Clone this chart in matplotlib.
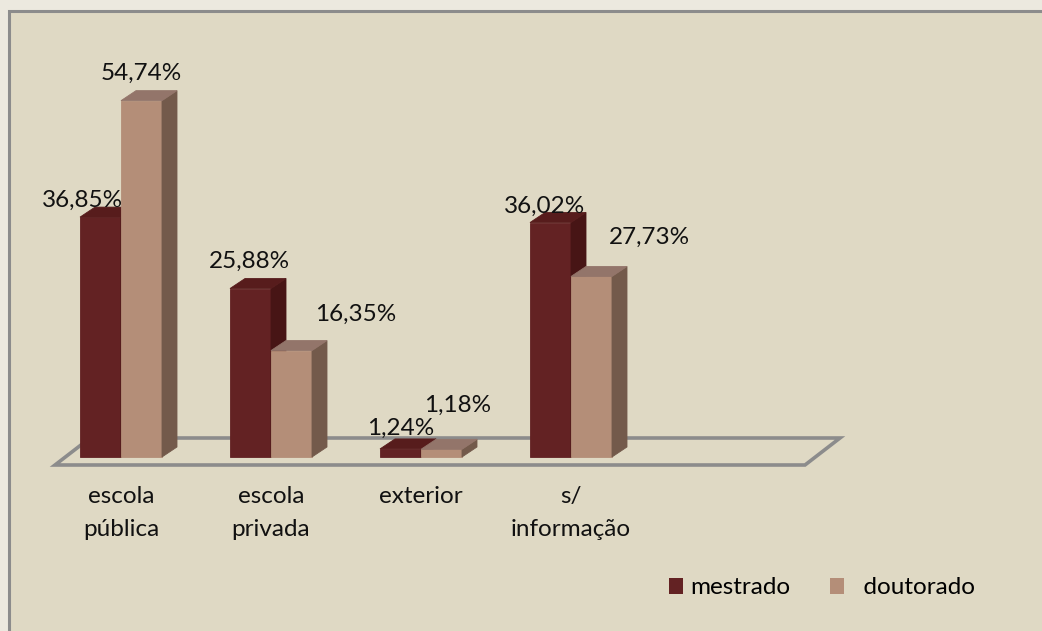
import matplotlib
matplotlib.use("Agg")
import matplotlib.pyplot as plt
from matplotlib.patches import Polygon, Rectangle, Patch

# ---------------- data ----------------
categories = ["escola\npública", "escola\nprivada", "exterior", "s/\ninformação"]
series_names = ["mestrado", "doutorado"]
mestrado = [36.85, 25.88, 1.24, 36.02]
doutorado = [54.74, 16.35, 1.18, 27.73]
label_mestrado = ["36,85%", "25,88%", "1,24%", "36,02%"]
label_doutorado = ["54,74%", "16,35%", "1,18%", "27,73%"]

# ---------------- style ----------------
FIG_W, FIG_H = 1042, 631
PX_CAT = 150.0      # pixels per category slot
PX_PCT = 6.51       # pixels per percent
X0_PX = 121.0       # pixel x of first category centre
BASE_PX = 457.0     # pixel y of bar bases
BAR_W = 41.0 / PX_CAT
DEPTH = (15.0 / PX_CAT, 10.0 / PX_PCT)          # bar 3D depth in data units
FLOOR_DEPTH = (35.0 / PX_CAT, 27.0 / PX_PCT)
FLOOR_FRONT = -8.0 / PX_PCT
FLOOR_LEFT = -0.44
N_SLOTS = 5

colors = {
    "mestrado": ("#632223", "#471515", "#571c1c"),   # front, side, top
    "doutorado": ("#B48E78", "#735A4B", "#93756A"),
}
BG_OUT = "#ECE9DF"
BG_PANEL = "#DFD9C4"
GRID = "#8C8C8C"
FONT = "Lato"
FS = 17.5

# label offsets in pixels (dx from front centre, dy above front top)
off_m = [(-18, 17), (-1, 27), (0, 21), (-6, 16)]
off_d = [(0, 27), (64, 36), (16, 44), (58, 39)]

fig = plt.figure(figsize=(FIG_W / 100, FIG_H / 100), dpi=100)
fig.patch.set_facecolor(BG_OUT)
ax = fig.add_axes([0, 0, 1, 1])
ax.axis("off")
ax.set_xlim(-X0_PX / PX_CAT, (FIG_W - X0_PX) / PX_CAT)
ax.set_ylim(-(FIG_H - BASE_PX) / PX_PCT, BASE_PX / PX_PCT)

# panel
ax.add_patch(Rectangle((8.5 / FIG_W, -0.1), 1.2, 1.1 - 10.5 / FIG_H,
                       transform=fig.transFigure, facecolor=BG_PANEL,
                       edgecolor=GRID, linewidth=2.2, zorder=0, clip_on=False))

# floor
fl = FLOOR_LEFT
fr = FLOOR_LEFT + N_SLOTS
fx, fy = FLOOR_DEPTH
ax.add_patch(Polygon([(fl, FLOOR_FRONT), (fr, FLOOR_FRONT),
                      (fr + fx, FLOOR_FRONT + fy), (fl + fx, FLOOR_FRONT + fy)],
                     closed=True, facecolor="none", edgecolor=GRID,
                     linewidth=2.6, joinstyle="miter", zorder=1))

dx, dy = DEPTH
xs = list(range(len(categories)))


def draw_bar(x_left, h, cols, z):
    front, side, top = cols
    ax.bar(x_left, h, width=BAR_W, align="edge", color=front, zorder=z,
           edgecolor=front, linewidth=0.6)
    xr = x_left + BAR_W
    ax.add_patch(Polygon([(xr, 0), (xr + dx, dy), (xr + dx, h + dy), (xr, h)],
                         closed=True, facecolor=side, edgecolor=side,
                         linewidth=0.6, zorder=z))
    ax.add_patch(Polygon([(x_left, h), (xr, h), (xr + dx, h + dy), (x_left + dx, h + dy)],
                         closed=True, facecolor=top, edgecolor=top,
                         linewidth=0.6, zorder=z))


for i in xs:
    draw_bar(i - BAR_W, mestrado[i], colors["mestrado"], 2 + 2 * i)
    draw_bar(i, doutorado[i], colors["doutorado"], 3 + 2 * i)

# data labels
for i in xs:
    for vals, labs, offs, xl in ((mestrado, label_mestrado, off_m, i - BAR_W / 2),
                                 (doutorado, label_doutorado, off_d, i + BAR_W / 2)):
        ox, oy = offs[i]
        ax.text(xl + ox / PX_CAT, vals[i] + oy / PX_PCT, labs[i],
                ha="center", va="center", fontsize=FS, family=FONT,
                color="#111111", zorder=20)

# category labels
for i in xs:
    ax.text(i, -(486 - BASE_PX) / PX_PCT, categories[i], ha="center", va="top",
            fontsize=FS, family=FONT, color="#111111", linespacing=1.7, zorder=20)

# legend
handles = [Patch(facecolor=colors["mestrado"][0]), Patch(facecolor=colors["doutorado"][0])]
ax.legend(handles, [series_names[0], "  " + series_names[1]], loc="center",
          bbox_to_anchor=(822 / FIG_W, 1 - 588 / FIG_H), ncol=2, frameon=False,
          prop={"family": FONT, "size": FS}, handlelength=0.6, handleheight=0.6,
          handletextpad=0.3, columnspacing=1.6, borderpad=0)

fig.savefig("out.png", dpi=100, facecolor=fig.get_facecolor())
